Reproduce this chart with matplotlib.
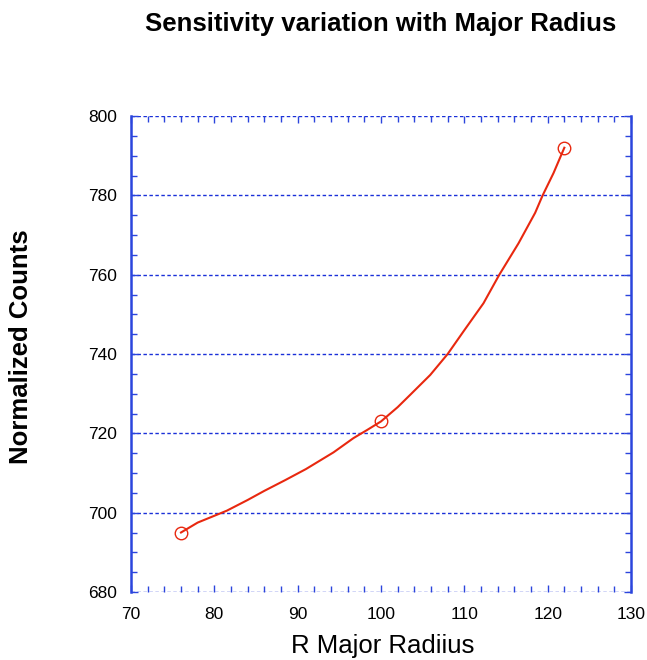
import matplotlib
matplotlib.use("Agg")
import matplotlib.pyplot as plt
from matplotlib.ticker import MultipleLocator

plt.rcParams['font.family'] = ['Liberation Sans', 'DejaVu Sans']

# measured points (markers)
pts_x = [76.0, 100.0, 122.0]
pts_y = [695.0, 723.2, 792.0]

# smooth curve
curve_x = [76.0, 78.0, 81.5, 84.0, 86.0, 88.5, 91.0, 94.3, 96.7, 98.3, 100.0, 102.0,
           103.5, 105.9, 108.0, 110.0, 112.3, 114.2, 116.5, 118.5, 119.4, 120.7, 122.0]
curve_y = [695.0, 697.5, 700.5, 703.2, 705.5, 708.2, 711.0, 715.2, 718.8, 720.8, 723.0, 726.6,
           729.7, 734.7, 740.0, 746.0, 752.8, 760.0, 767.9, 775.6, 780.0, 785.6, 792.0]

x_ticks = [70, 80, 90, 100, 110, 120, 130]
y_ticks = [680, 700, 720, 740, 760, 780, 800]

title = "Sensitivity variation with Major Radius"
xlabel = "R Major Radiius"
ylabel = "Normalized Counts"

blue = '#2b45dd'
grid_blue = '#1a30d8'
red = '#e8280f'

W, H = 647, 660
fig = plt.figure(figsize=(W / 100, H / 100), dpi=100)
ax = fig.add_axes([131 / W, 1 - 592 / H, 500 / W, 476 / H])

ax.set_xlim(70, 130)
ax.set_ylim(680, 800)
ax.set_xticks(x_ticks)
ax.set_yticks(y_ticks)
ax.xaxis.set_minor_locator(MultipleLocator(2))
ax.yaxis.set_minor_locator(MultipleLocator(5))

for yv in y_ticks:
    ax.axhline(yv, color=grid_blue, lw=1.0, ls=(0, (2.5, 1.8)), zorder=1)

ax.plot(curve_x, curve_y, color=red, lw=1.5, zorder=3)
ax.plot(pts_x, pts_y, ls='none', marker='o', ms=9, mfc='none', mec=red, mew=1.0, zorder=4)

for side in ['left', 'right']:
    ax.spines[side].set_color(blue)
    ax.spines[side].set_linewidth(1.8)
for side in ['top', 'bottom']:
    ax.spines[side].set_visible(False)

ax.tick_params(which='both', direction='in', top=True, right=True, color=blue,
               labelsize=12.5, labelcolor='black')
ax.tick_params(which='major', length=5, width=1.0)
ax.tick_params(axis='y', which='major', pad=10)
ax.tick_params(axis='x', which='major', pad=11)
ax.tick_params(which='minor', length=4, width=1.0)

fig.text(381 / W, 1 - 31 / H, title, ha='center', va='baseline',
         fontsize=18.5, fontweight='bold')
fig.text(383 / W, 1 - 653 / H, xlabel, ha='center', va='baseline', fontsize=18.5)
fig.text(21 / W, 1 - 346.5 / H, ylabel, ha='center', va='center', rotation=90,
         fontsize=18.5, fontweight='bold')

fig.savefig('out.png', dpi=100)
